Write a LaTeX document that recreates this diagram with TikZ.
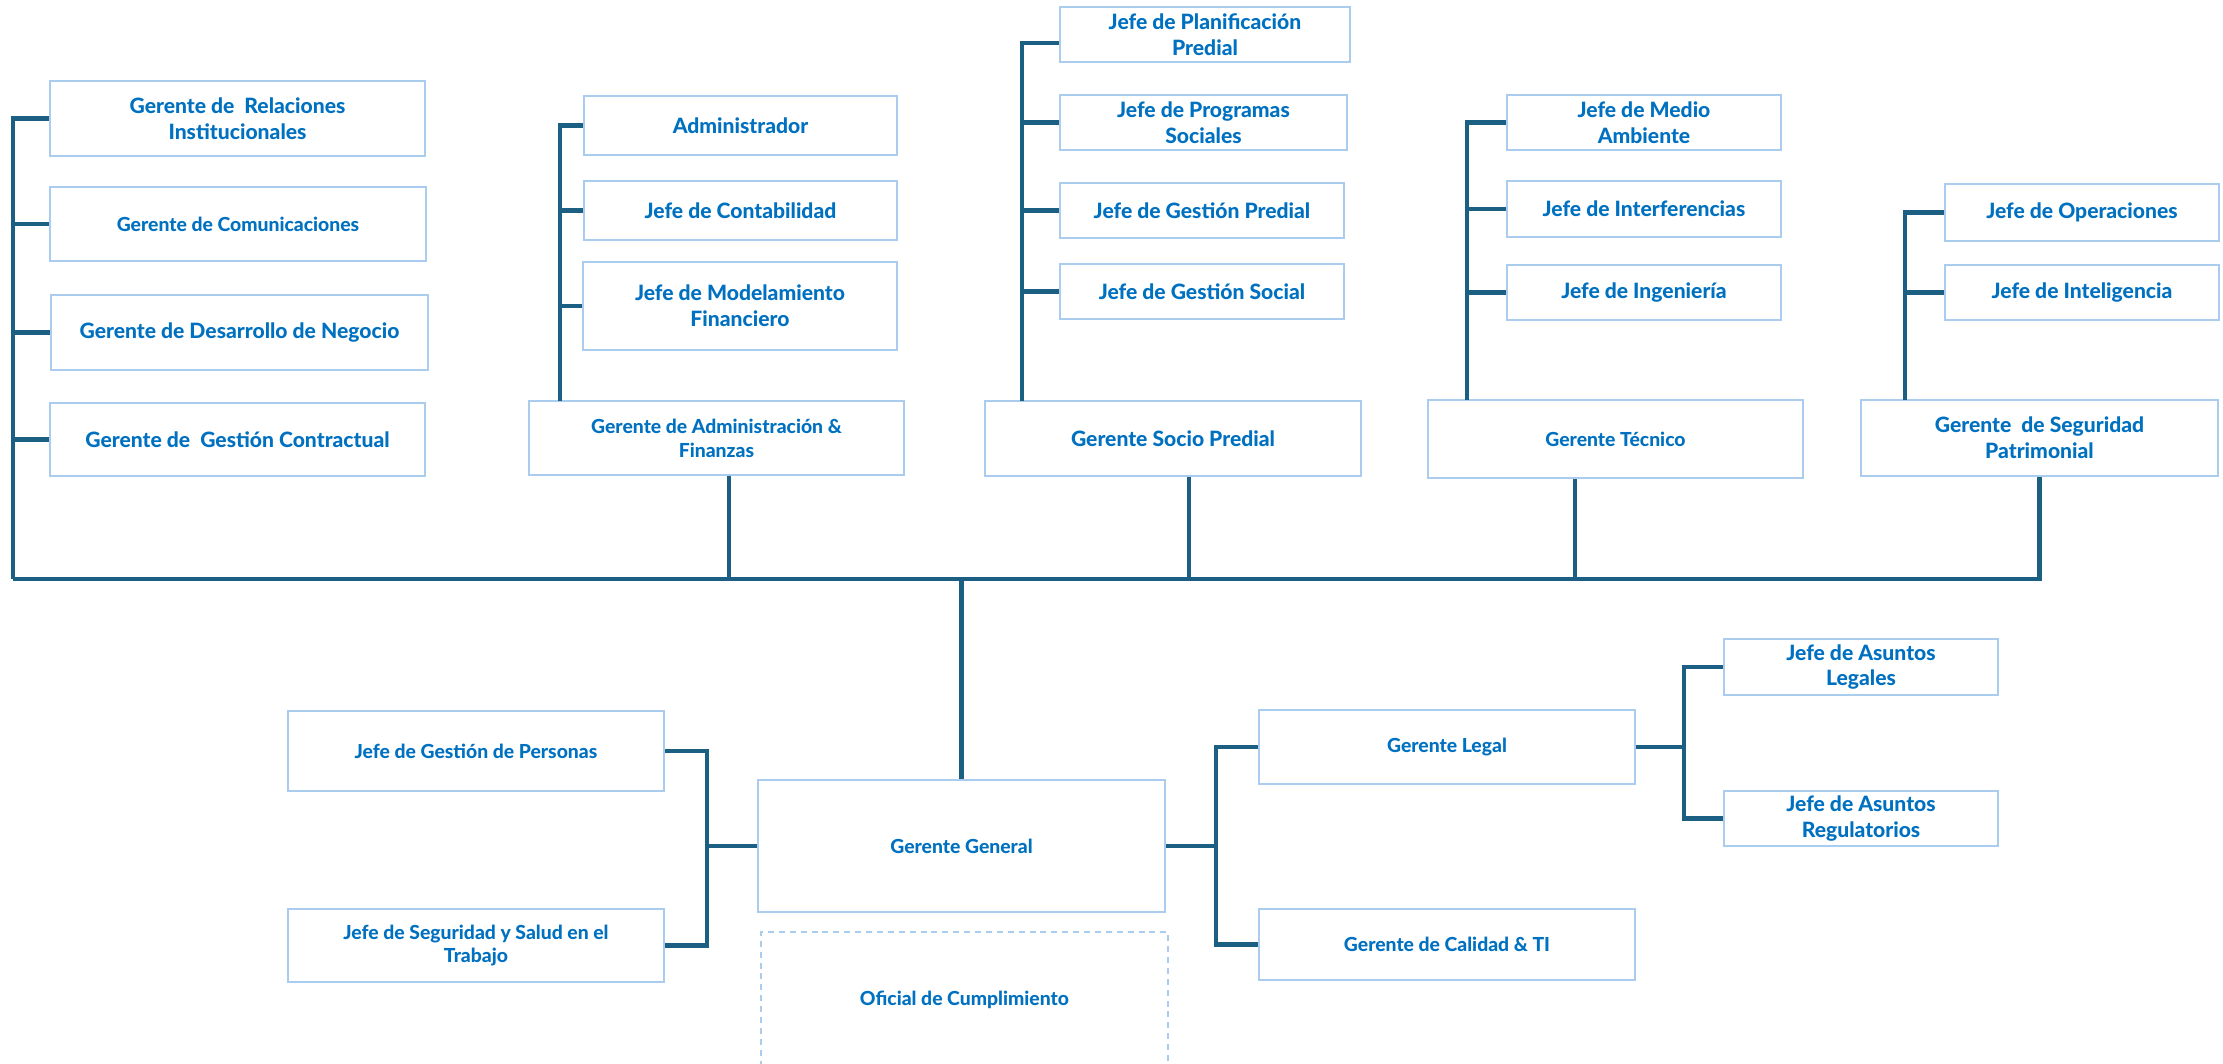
\documentclass[tikz,border=0pt]{standalone}
\usepackage{fontspec}
\setmainfont{Lato}[BoldFont={Lato Heavy}]
\usepackage{tikz}
\usetikzlibrary{positioning}
\definecolor{txtblue}{RGB}{0,112,192}
\definecolor{boxblue}{RGB}{170,204,238}
\definecolor{linkblue}{RGB}{27,95,130}
\newcommand{\bigf}{\fontsize{6.0}{7.3}\selectfont\bfseries}
\newcommand{\smallf}{\fontsize{5.5}{6.8}\selectfont\bfseries}

\begin{document}
\begin{tikzpicture}[x=0.01cm,y=-0.01cm,
  box/.style={draw=boxblue, line width=0.6pt, text=txtblue, align=center, inner sep=0pt, font=\bigf},
  sbox/.style={box, font=\smallf},
  dbox/.style={sbox, dash pattern=on 1.7pt off 1.4pt},
  link/.style={draw=linkblue, line width=1.15pt}]
\clip (0,0) rectangle (2223,1063);

\node[box, minimum width=3.75cm, minimum height=0.75cm] (ri) at (237.5,118.5) {Gerente de~ Relaciones\\Institucionales};
\node[sbox, minimum width=3.76cm, minimum height=0.74cm] (com) at (238,224) {Gerente de Comunicaciones};
\node[box, minimum width=3.77cm, minimum height=0.75cm] (dn) at (239.5,332.5) {Gerente de Desarrollo de Negocio};
\node[box, minimum width=3.75cm, minimum height=0.73cm] (gc) at (237.5,439.5) {Gerente de~ Gestión Contractual};

\node[box, minimum width=3.13cm, minimum height=0.59cm] (adm) at (740.5,125.5) {Administrador};
\node[box, minimum width=3.13cm, minimum height=0.59cm] (cont) at (740.5,210.5) {Jefe de Contabilidad};
\node[box, minimum width=3.14cm, minimum height=0.88cm] (mod) at (740,306) {Jefe de Modelamiento\\Financiero};
\node[sbox, minimum width=3.75cm, minimum height=0.74cm] (gaf) at (716.5,438) {Gerente de Administración \&\\Finanzas};

\node[box, minimum width=2.90cm, minimum height=0.55cm] (jpp) at (1205,34.5) {Jefe de Planificación\\Predial};
\node[box, minimum width=2.87cm, minimum height=0.55cm] (jps) at (1203.5,122.5) {Jefe de Programas\\Sociales};
\node[box, minimum width=2.84cm, minimum height=0.55cm] (jgp) at (1202,210.5) {Jefe de Gestión Predial};
\node[box, minimum width=2.84cm, minimum height=0.55cm] (jgs) at (1202,291.5) {Jefe de Gestión Social};
\node[box, minimum width=3.76cm, minimum height=0.75cm] (gsp) at (1173,438.5) {Gerente Socio Predial};

\node[box, minimum width=2.74cm, minimum height=0.55cm] (jma) at (1644,122.5) {Jefe de Medio\\Ambiente};
\node[box, minimum width=2.74cm, minimum height=0.56cm] (ji) at (1644,209) {Jefe de Interferencias};
\node[box, minimum width=2.74cm, minimum height=0.55cm] (jing) at (1644,292.5) {Jefe de Ingeniería};
\node[sbox, minimum width=3.75cm, minimum height=0.78cm] (gt) at (1615.5,439) {Gerente Técnico};

\node[box, minimum width=2.74cm, minimum height=0.57cm] (jo) at (2082,212.5) {Jefe de Operaciones};
\node[box, minimum width=2.74cm, minimum height=0.55cm] (jint) at (2082,292.5) {Jefe de Inteligencia};
\node[box, minimum width=3.57cm, minimum height=0.76cm] (gspat) at (2039.5,438) {Gerente~ de Seguridad\\Patrimonial};

\node[sbox, minimum width=4.07cm, minimum height=1.32cm] (gg) at (961.5,846) {Gerente General};
\node[dbox, minimum width=4.07cm, minimum height=1.36cm] (oc) at (964.5,1000) {Oficial de Cumplimiento};

\node[sbox, minimum width=3.76cm, minimum height=0.80cm] (jgper) at (476,751) {Jefe de Gestión de Personas};
\node[sbox, minimum width=3.76cm, minimum height=0.73cm] (jsst) at (476,945.5) {Jefe de Seguridad y Salud en el\\Trabajo};

\node[sbox, minimum width=3.76cm, minimum height=0.74cm] (gl) at (1447,747) {Gerente Legal};
\node[sbox, minimum width=3.76cm, minimum height=0.71cm] (gcti) at (1447,944.5) {Gerente de Calidad \& TI};
\node[box, minimum width=2.74cm, minimum height=0.56cm] (jal) at (1861,667) {Jefe de Asuntos\\Legales};
\node[box, minimum width=2.74cm, minimum height=0.55cm] (jar) at (1861,818.5) {Jefe de Asuntos\\Regulatorios};

\coordinate (b1) at (13,579);
\coordinate (b2) at (560,401);
\coordinate (b3) at (1022,401);
\coordinate (b4) at (1467,400);
\coordinate (b5) at (1905,400);
\coordinate (b6) at (707,846);
\coordinate (b7) at (1216,846);
\coordinate (b8) at (1684,747);

\draw[link] (ri.west) -| (b1);
\draw[link] (com.west) -| (b1);
\draw[link] (dn.west) -| (b1);
\draw[link] (gc.west) -| (b1);
\draw[link] (b1) -| (gspat.south);

\draw[link] (adm.west) -| (b2);
\draw[link] (cont.west) -| (b2);
\draw[link] (mod.west) -| (b2);
\draw[link] ([xshift=0.125cm]gaf.south) -- ([xshift=0.125cm]gaf.south |- b1);

\draw[link] ([yshift=-0.085cm]jpp.west) -| (b3);
\draw[link] (jps.west) -| (b3);
\draw[link] (jgp.west) -| (b3);
\draw[link] (jgs.west) -| (b3);
\draw[link] ([xshift=0.16cm]gsp.south) -- ([xshift=0.16cm]gsp.south |- b1);

\draw[link] (jma.west) -| (b4);
\draw[link] (ji.west) -| (b4);
\draw[link] (jing.west) -| (b4);
\draw[link] ([xshift=-0.405cm]gt.south) -- ([xshift=-0.405cm]gt.south |- b1);

\draw[link] (jo.west) -| (b5);
\draw[link] (jint.west) -| (b5);

\draw[link] (gg.north) -- (gg.north |- b1);

\draw[link] (jgper.east) -| (b6);
\draw[link] (jsst.east) -| (b6);
\draw[link] (b6) -- (gg.west);

\draw[link] (gg.east) -- (b7);
\draw[link] (gl.west) -| (b7);
\draw[link] (gcti.west) -| (b7);

\draw[link] (gl.east) -- (b8);
\draw[link] (jal.west) -| (b8);
\draw[link] (jar.west) -| (b8);
\end{tikzpicture}
\end{document}
